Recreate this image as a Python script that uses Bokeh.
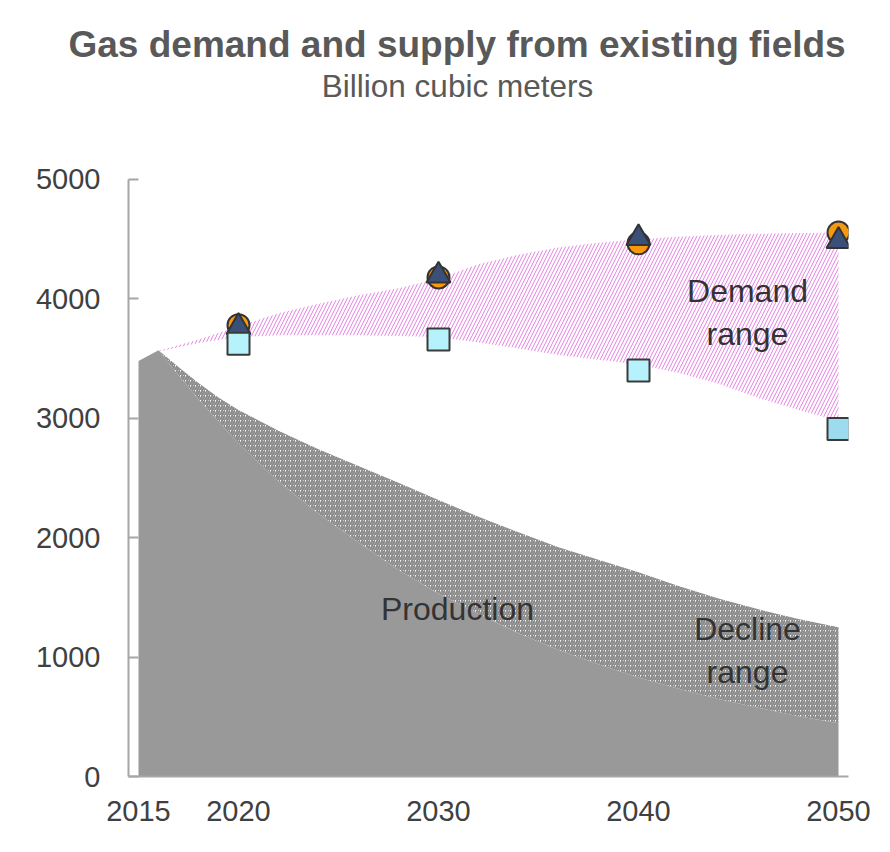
from bokeh.plotting import figure
from bokeh.models import Label, FixedTicker, Range1d, Title
from bokeh.embed import file_html
from bokeh.resources import INLINE

# ---- data ----
years = [2015, 2016, 2017, 2018, 2019, 2020, 2022, 2024, 2026, 2028, 2030,
         2032, 2034, 2036, 2038, 2040, 2042, 2044, 2046, 2048, 2050]
production = [3480, 3570, 3360, 3160, 2970, 2790, 2470, 2200, 1960, 1730, 1530,
              1360, 1200, 1060, 940, 830, 735, 650, 575, 505, 445]
decline_top = [3480, 3570, 3430, 3295, 3175, 3070, 2895, 2740, 2600, 2460, 2315,
               2175, 2045, 1920, 1815, 1710, 1595, 1490, 1400, 1320, 1250]

demand_years = [2016, 2018, 2020, 2022, 2024, 2026, 2028, 2030, 2032, 2034,
                2036, 2038, 2040, 2042, 2044, 2046, 2048, 2050]
demand_low = [3560, 3630, 3680, 3695, 3695, 3695, 3690, 3680, 3635, 3585,
              3530, 3490, 3450, 3380, 3290, 3170, 3070, 2980]
demand_high = [3565, 3660, 3770, 3880, 3960, 4030, 4090, 4170, 4290, 4370,
               4430, 4470, 4500, 4520, 4535, 4545, 4552, 4555]

point_years = [2020, 2030, 2040, 2050]
circle_vals = [3780, 4180, 4465, 4555]
triangle_vals = [3765, 4195, 4510, 4485]
square_vals = [3625, 3660, 3400, 2910]
square_colors = ["#b6f2fc", "#b6f2fc", "#b6f2fc", "#9ddbee"]

x_ticks = [2015, 2020, 2030, 2040, 2050]
y_ticks = [0, 1000, 2000, 3000, 4000, 5000]

FONT = "Liberation Sans"

# frame reaches up to the title panel; the y axis is bounded to 0..5000
p = figure(width=888, height=850,
           x_range=Range1d(2014.5, 2050.5), y_range=Range1d(0, 5963),
           output_backend="svg", toolbar_location=None,
           min_border_left=128, min_border_right=40,
           min_border_top=64, min_border_bottom=74)
p.xgrid.visible = False
p.ygrid.visible = False
p.outline_line_color = None
p.background_fill_color = "white"
p.border_fill_color = "white"

p.add_layout(Title(text="Gas demand and supply from existing fields", align="left",
                   offset=-60, standoff=0,
                   text_font=FONT, text_font_size="37px", text_font_style="bold",
                   text_color="#595959"), "above")

# production (solid)
p.varea(x=years, y1=[0] * len(years), y2=production, fill_color="#999999")
# decline range (hatched grey)
p.varea(x=years, y1=production, y2=decline_top, fill_alpha=0,
        hatch_pattern="/", hatch_color="#8a8a8a", hatch_scale=5, hatch_weight=2.1)
# demand range (hatched pink)
p.varea(x=demand_years, y1=demand_low, y2=demand_high, fill_alpha=0,
        hatch_pattern="/", hatch_color="#e27fe0", hatch_scale=7, hatch_weight=1.0)

# markers
p.scatter(point_years, circle_vals, marker="circle", size=22,
          fill_color="#f7980f", line_color="#333333", line_width=2)
p.scatter(point_years, triangle_vals, marker="triangle", size=24,
          fill_color="#3b5078", line_color="#333333", line_width=2)
p.scatter(point_years, square_vals, marker="square", size=22,
          fill_color=square_colors, line_color="#3a3a3a", line_width=2)

# axes
for ax in (p.xaxis[0], p.yaxis[0]):
    ax.axis_line_color = "#a6a6a6"
    ax.axis_line_width = 2
    ax.major_tick_line_color = "#a6a6a6"
    ax.major_tick_line_width = 2
    ax.minor_tick_line_color = None
    ax.major_label_text_font = FONT
    ax.major_label_text_font_size = "29px"
    ax.major_label_text_color = "#404040"

p.xaxis.ticker = FixedTicker(ticks=x_ticks)
p.yaxis.ticker = FixedTicker(ticks=y_ticks)
p.yaxis.bounds = (0, 5000)
p.xaxis.major_tick_in = 0
p.xaxis.major_tick_out = 0
p.xaxis.major_label_standoff = 24
p.yaxis.major_tick_in = 10
p.yaxis.major_tick_out = 0
p.yaxis.major_label_standoff = 28

# subtitle
p.add_layout(Label(x=2030.95, y=5787, text="Billion cubic meters",
                   text_font=FONT, text_font_size="31.5px",
                   text_color="#595959", text_align="center", text_baseline="middle"))

for txt, xx, yy in [("Production", 2030.95, 1407),
                    ("Demand\nrange", 2045.45, 3886),
                    ("Decline\nrange", 2045.45, 1055)]:
    p.add_layout(Label(x=xx, y=yy, text=txt, text_font=FONT,
                       text_font_size="32px", text_color="#333333",
                       text_align="center", text_baseline="middle"))

open("out.html", "w").write(file_html(p, INLINE))
